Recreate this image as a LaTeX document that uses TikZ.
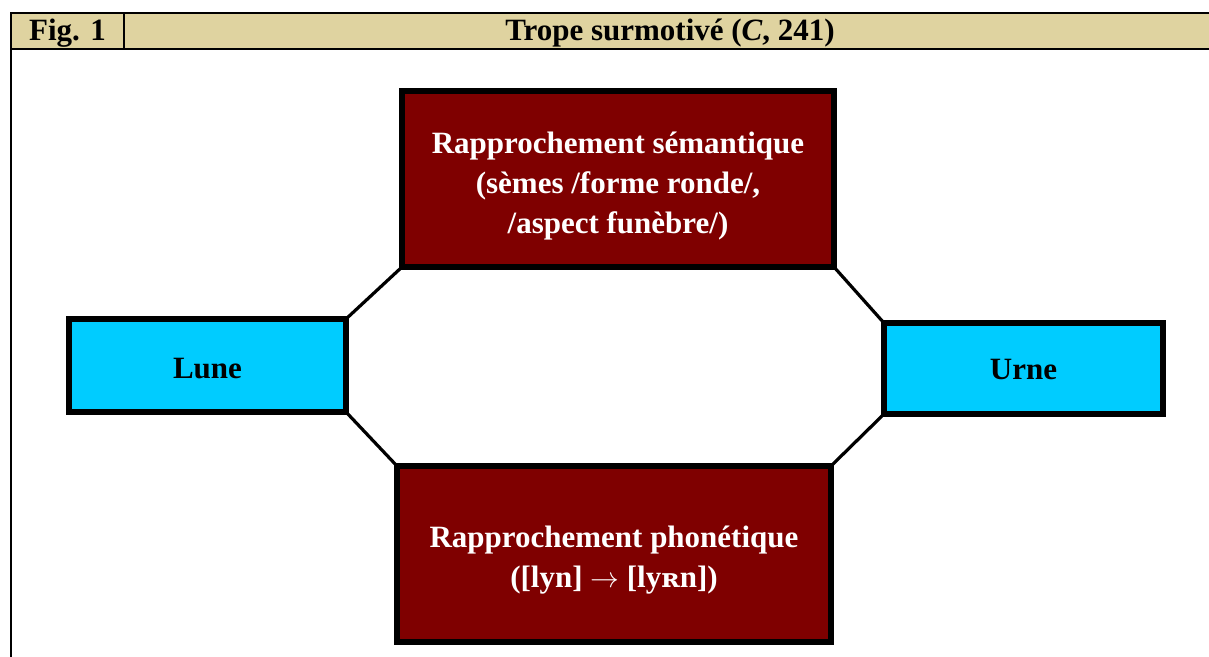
\documentclass[tikz,border=0pt]{standalone}
\usepackage{fontspec}
\setmainfont{Liberation Serif}
\newfontfamily\ipafont{DejaVu Serif}[Scale=0.86]
\definecolor{headtan}{HTML}{DFD3A0}
\definecolor{maroon}{HTML}{7F0000}
\definecolor{skyblue}{HTML}{00CCFF}
\tikzset{
  rule/.style={line width=1.3pt, line cap=rect},
  headtext/.style={font=\fontsize{15.5}{18}\selectfont\bfseries, inner sep=0pt},
  darkbox/.style={draw=black, line width=2.6pt, fill=maroon,
    minimum width=#1, minimum height=88pt, inner sep=0pt, outer sep=0pt},
  darktext/.style={text=white, font=\fontsize{15.5}{20}\selectfont\bfseries,
    align=center, inner sep=0pt},
  wordbox/.style={draw=black, line width=2.6pt, fill=skyblue, text=black,
    font=\fontsize{15.5}{18}\selectfont\bfseries, text depth=0pt,
    minimum width=#1, inner sep=0pt, outer sep=0pt},
  link/.style={line width=1.6pt, black}
}
\begin{document}
\begin{tikzpicture}[x=0.5pt, y=-0.5pt]
\useasboundingbox (0,0) rectangle (1209,657);

% header row of the table
\fill[headtan] (11,13) rectangle (1209,49);
\draw[rule] (1209,13) -- (11,13) -- (11,657);
\draw[rule] (11,49) -- (1209,49);
\draw[rule] (124,13) -- (124,49);
\node[headtext] (fig) at (67.5,33) {Fig. 1};
\node[headtext] (title) at (670,33) {Trope surmotivé (\textit{C}, 241)};

% boxes
\node[darkbox=216pt] (sem) at (618,179) {};
\node[darktext] (semtext) at ([yshift=-3.7pt]sem.center)
  {Rapprochement sémantique\\(sèmes /forme ronde/,\\/aspect funèbre/)};
\node[darkbox=217pt] (pho) at (614,554) {};
\node[darktext] (photext) at ([yshift=-2.8pt]pho.center)
  {Rapprochement phonétique\\([lyn] $\rightarrow$ [ly{\ipafont\bfseries ʀ}n])};
\node[wordbox=138.5pt, minimum height=46.5pt, text height=13.2pt] (lune) at (207.5,365.5) {Lune};
\node[wordbox=139.5pt, minimum height=45.5pt, text height=11pt] (urne) at (1023.5,368.5) {Urne};

% connectors
\draw[link] (sem.south west) -- (lune.north east);
\draw[link] (lune.south east) -- (pho.north west);
\draw[link] (sem.south east) -- (urne.north west);
\draw[link] (urne.south west) -- (pho.north east);
\end{tikzpicture}
\end{document}
